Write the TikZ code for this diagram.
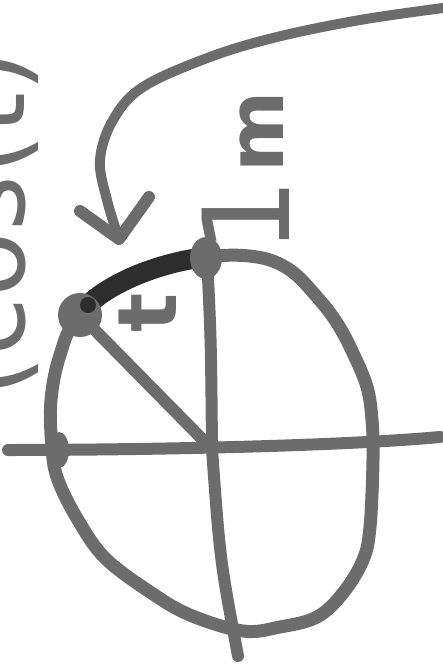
\documentclass[tikz,border=0pt]{standalone}
\usepackage{fontspec}
\newfontfamily\hand{DejaVu Sans}
\definecolor{pen}{RGB}{108,108,108}
\definecolor{ink}{RGB}{45,45,45}
\begin{document}
\begin{tikzpicture}[x=1pt,y=-1pt,
  stroke/.style={draw=pen,line width=12pt,line cap=round,line join=round},
  lbl/.style={text=pen,inner sep=0pt,rotate=90}]
\useasboundingbox (0,0) rectangle (443,669);
\clip (0,0) rectangle (443,669);
% key points
\coordinate (O) at (212,449);
\coordinate (P1) at (207,257);
\coordinate (Pt) at (80,315);
\coordinate (Ptend) at (88,305);
\coordinate (Hl) at (8,450);
\coordinate (Hr) at (440,437);
\coordinate (Vb) at (238,656);
\coordinate (Astart) at (443,8);
\coordinate (Atip) at (119,239);
\coordinate (ArmL) at (80,211);
\coordinate (ArmR) at (149,197);
% circle
\draw[stroke,line width=13pt] plot[smooth cycle,tension=0.6] coordinates {(207,257) (257,257) (290,270) (317,297) (337,323) (353,353) (367,387) (372,420) (373,460) (370,527) (363,560) (343,593) (317,617) (280,627) (243,631) (190,615) (150,592) (105,558) (78,520) (58,480) (52,448) (51,400) (60,355) (78,318) (133,273)};
% axes
\draw[stroke] (Hl) .. controls (120,450) and (330,447) .. (Hr);
\draw[stroke] (P1) .. controls (211,340) .. (O) .. controls (220,560) .. (Vb);
% radius to t
\draw[stroke] (O) -- (Pt);
% mark at left crossing
\fill[pen] (59,450) ellipse [x radius=10, y radius=18];
% thick arc
\draw[ink,line width=20pt,line cap=round] (Ptend) .. controls (110,283) and (160,262) .. (P1);
% dots
\fill[pen] (Pt) circle [radius=22];
\fill[ink] (Ptend) circle [radius=8];
\fill[pen] (206,258) ellipse [x radius=16, y radius=21];
% curved arrow
\draw[stroke,line width=10pt] plot[smooth,tension=0.6] coordinates {(Astart) (360,20) (277,37) (210,57) (143,87) (113,120) (100,160) (107,200) (Atip)};
\draw[stroke,line width=12pt] (ArmL) -- (Atip) -- (ArmR);
% labels
\node[lbl,font={\hand\bfseries\fontsize{78}{78}\selectfont}] (m) at (262,132) {m};
\node[lbl,font={\hand\fontsize{120}{120}\selectfont}] (one) at (246,216) {1};
\node[lbl,font={\hand\bfseries\fontsize{82}{82}\selectfont}] (tl) at (148,313) {t};
\node[lbl,anchor=base west,font={\hand\fontsize{107}{107}\selectfont}] (coord) at (24,398) {(cos(t)};
\end{tikzpicture}
\end{document}
